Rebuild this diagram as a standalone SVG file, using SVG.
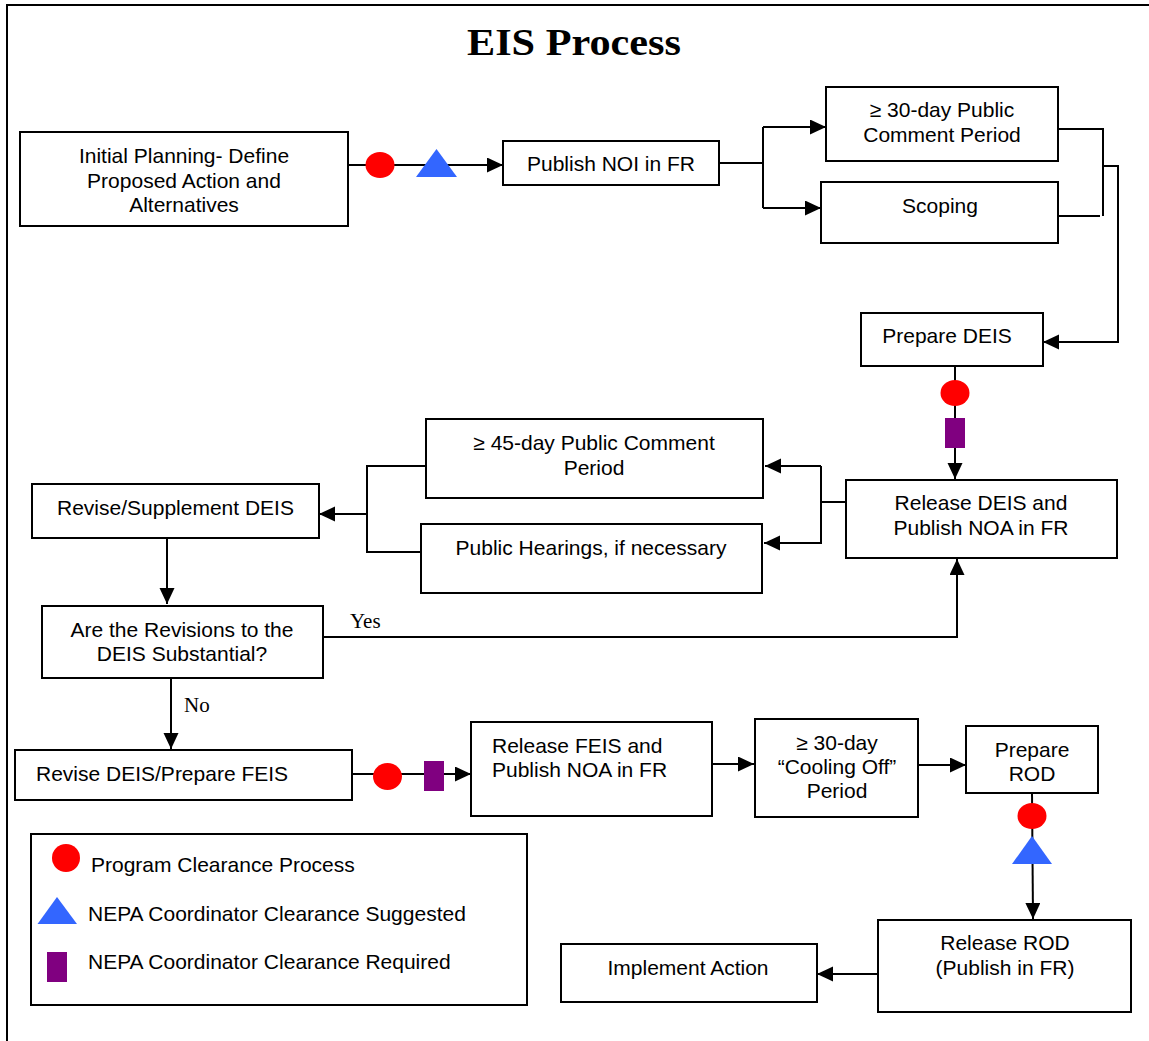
<svg xmlns="http://www.w3.org/2000/svg" width="1149" height="1041" viewBox="0 0 1149 1041">
<style>
.box{fill:#fff;stroke:#000;stroke-width:2}
.t{font-family:"Liberation Sans",Arial,sans-serif;font-size:21px;fill:#000}
.c{text-anchor:middle}
.s{font-family:"Liberation Serif","Times New Roman",serif;font-size:21px;fill:#000}
.ln{fill:none;stroke:#000;stroke-width:2}
.arr{marker-end:url(#ah)}
.red{fill:#FF0000}
.blue{fill:#3366FF}
.pur{fill:#800080}
</style>
<defs>
<marker id="ah" markerUnits="userSpaceOnUse" markerWidth="17" markerHeight="16" refX="16" refY="7.5" orient="auto">
<path d="M0,0 L16,7.5 L0,15 z" fill="#000"/>
</marker>
</defs>
<rect x="0" y="0" width="1149" height="1041" fill="#fff"/>
<path d="M7,1041 V5 H1149" fill="none" stroke="#000" stroke-width="2"/>
<text x="574" y="55" font-family="'Liberation Serif','Times New Roman',serif" font-weight="bold" font-size="37" text-anchor="middle" textLength="214" lengthAdjust="spacingAndGlyphs">EIS Process</text>

<g id="connectors">
<line class="ln arr" x1="348" y1="165" x2="503" y2="165"/>
<polyline class="ln" points="720,163 763,163"/>
<polyline class="ln" points="763,127 763,208"/>
<line class="ln arr" x1="763" y1="127" x2="826" y2="127"/>
<line class="ln arr" x1="763" y1="208" x2="821" y2="208"/>
<polyline class="ln" points="1058,129 1103,129 1103,216"/>
<polyline class="ln" points="1058,216 1100,216"/>
<polyline class="ln arr" points="1102,166 1118,166 1118,342 1043,342"/>
<line class="ln arr" x1="955" y1="366" x2="955" y2="479"/>
<polyline class="ln" points="846,502 821,502"/>
<polyline class="ln" points="821,466 821,544"/>
<line class="ln arr" x1="821" y1="466" x2="765" y2="466"/>
<line class="ln arr" x1="821" y1="543" x2="764" y2="543"/>
<polyline class="ln" points="426,466 367,466 367,552 421,552"/>
<line class="ln arr" x1="367" y1="514" x2="319" y2="514"/>
<line class="ln arr" x1="167" y1="538" x2="167" y2="604"/>
<polyline class="ln arr" points="323,637 957,637 957,559"/>
<line class="ln arr" x1="171" y1="678" x2="171" y2="749"/>
<line class="ln arr" x1="352" y1="774" x2="471" y2="774"/>
<line class="ln arr" x1="713" y1="764" x2="754" y2="764"/>
<line class="ln arr" x1="919" y1="765" x2="966" y2="765"/>
<line class="ln arr" x1="1032" y1="793" x2="1033" y2="919"/>
<line class="ln arr" x1="878" y1="974" x2="817" y2="974"/>
<ellipse class="red" cx="380" cy="165" rx="14.5" ry="13"/>
<polygon class="blue" points="416,177 457,177 436.5,149"/>
<ellipse class="red" cx="955" cy="393" rx="14.5" ry="13"/>
<rect class="pur" x="945" y="418" width="20" height="30"/>
<ellipse class="red" cx="387.5" cy="776.5" rx="14.5" ry="13.5"/>
<rect class="pur" x="424" y="761" width="20" height="30"/>
<ellipse class="red" cx="1032" cy="816" rx="14.5" ry="13"/>
<polygon class="blue" points="1012,864 1052,864 1032,836"/>
</g>

<g id="initial-planning">
<rect class="box" x="20" y="132" width="328" height="94"/>
<text class="t c" x="184" y="163">Initial Planning- Define</text>
<text class="t c" x="184" y="188">Proposed Action and</text>
<text class="t c" x="184" y="212">Alternatives</text>
</g>
<g id="publish-noi">
<rect class="box" x="503" y="141" width="216" height="44"/>
<text class="t c" x="611" y="171">Publish NOI in FR</text>
</g>
<g id="comment-30">
<rect class="box" x="826" y="87" width="232" height="74"/>
<text class="t c" x="942" y="117">≥ 30-day Public</text>
<text class="t c" x="942" y="142">Comment Period</text>
</g>
<g id="scoping">
<rect class="box" x="821" y="182" width="237" height="61"/>
<text class="t c" x="940" y="213">Scoping</text>
</g>
<g id="prepare-deis">
<rect class="box" x="861" y="313" width="182" height="53"/>
<text class="t c" x="947" y="343">Prepare DEIS</text>
</g>
<g id="release-deis">
<rect class="box" x="846" y="480" width="271" height="78"/>
<text class="t c" x="981" y="510">Release DEIS and</text>
<text class="t c" x="981" y="535">Publish NOA in FR</text>
</g>
<g id="comment-45">
<rect class="box" x="426" y="419" width="337" height="79"/>
<text class="t c" x="594" y="450">≥ 45-day Public Comment</text>
<text class="t c" x="594" y="475">Period</text>
</g>
<g id="public-hearings">
<rect class="box" x="421" y="524" width="341" height="69"/>
<text class="t c" x="591" y="555">Public Hearings, if necessary</text>
</g>
<g id="revise-supplement">
<rect class="box" x="32" y="484" width="287" height="54"/>
<text class="t c" x="175.5" y="515">Revise/Supplement DEIS</text>
</g>
<g id="substantial">
<rect class="box" x="42" y="606" width="281" height="72"/>
<text class="t c" x="182" y="637">Are the Revisions to the</text>
<text class="t c" x="182" y="661">DEIS Substantial?</text>
</g>
<text class="s" x="350" y="628">Yes</text>
<text class="s" x="184" y="712">No</text>
<g id="prepare-feis">
<rect class="box" x="15" y="750" width="337" height="50"/>
<text class="t" x="36" y="781">Revise DEIS/Prepare FEIS</text>
</g>
<g id="release-feis">
<rect class="box" x="471" y="722" width="241" height="94"/>
<text class="t" x="492" y="753">Release FEIS and</text>
<text class="t" x="492" y="777">Publish NOA in FR</text>
</g>
<g id="cooling-off">
<rect class="box" x="755" y="719" width="163" height="98"/>
<text class="t c" x="837" y="750">≥ 30-day</text>
<text class="t c" x="837" y="774">“Cooling Off”</text>
<text class="t c" x="837" y="798">Period</text>
</g>
<g id="prepare-rod">
<rect class="box" x="966" y="726" width="132" height="67"/>
<text class="t c" x="1032" y="757">Prepare</text>
<text class="t c" x="1032" y="781">ROD</text>
</g>
<g id="release-rod">
<rect class="box" x="878" y="920" width="253" height="92"/>
<text class="t c" x="1005" y="950">Release ROD</text>
<text class="t c" x="1005" y="975">(Publish in FR)</text>
</g>
<g id="implement">
<rect class="box" x="561" y="944" width="256" height="58"/>
<text class="t c" x="688" y="975">Implement Action</text>
</g>
<g id="legend">
<rect class="box" x="31" y="834" width="496" height="171"/>
<ellipse class="red" cx="66" cy="858" rx="14" ry="14"/>
<text class="t" x="91" y="872">Program Clearance Process</text>
<polygon class="blue" points="37.5,924 77,924 57,897"/>
<text class="t" x="88" y="921">NEPA Coordinator Clearance Suggested</text>
<rect class="pur" x="47" y="952" width="20" height="30"/>
<text class="t" x="88" y="969">NEPA Coordinator Clearance Required</text>
</g>
</svg>
